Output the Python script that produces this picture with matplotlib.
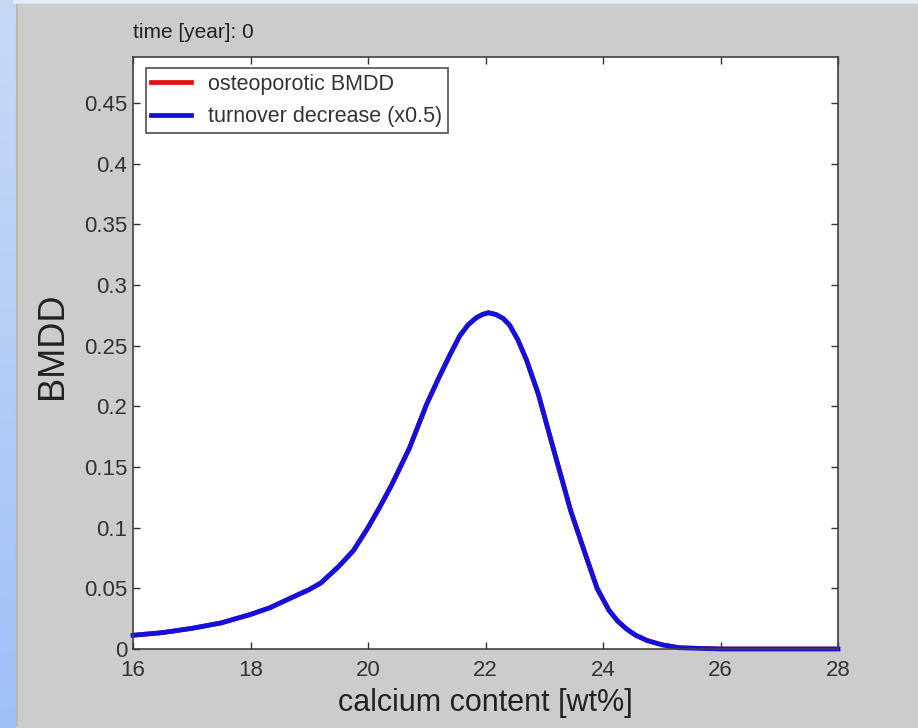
import numpy as np
import matplotlib
matplotlib.use('Agg')
import matplotlib.pyplot as plt
from matplotlib.lines import Line2D

# valeurs
calcium = [16.0, 16.5, 17.0, 17.5, 18.0, 18.33, 18.67, 19.0, 19.2, 19.5,
           19.75, 20.0, 20.2, 20.4, 20.7, 21.0, 21.2, 21.4, 21.56, 21.7,
           21.84, 21.95, 22.05, 22.18, 22.3, 22.41, 22.55, 22.7, 22.9, 23.15,
           23.45, 23.7, 23.9, 24.1, 24.25, 24.4, 24.55, 24.75, 25.0, 25.3,
           26.0, 27.0, 28.0]
bmdd = [0.0113, 0.0135, 0.017, 0.0215, 0.0285, 0.034, 0.0417, 0.049, 0.0545, 0.068,
        0.081, 0.100, 0.117, 0.135, 0.165, 0.202, 0.223, 0.243, 0.258, 0.267,
        0.273, 0.2758, 0.2772, 0.2757, 0.2725, 0.267, 0.255, 0.238, 0.210, 0.166,
        0.114, 0.078, 0.050, 0.032, 0.023, 0.0165, 0.0115, 0.007, 0.0035, 0.001,
        0.0, 0.0, 0.0]
# courbe osteoporotique identique au temps 0 (cachee sous la bleue)
bmdd_osteo = list(bmdd)

xticks = [16, 18, 20, 22, 24, 26, 28]
yticks = [0, 0.05, 0.1, 0.15, 0.2, 0.25, 0.3, 0.35, 0.4, 0.45]
ytick_labels = ['0', '0.05', '0.1', '0.15', '0.2', '0.25', '0.3', '0.35', '0.4', '0.45']

plt.rcParams['font.family'] = ['Liberation Sans', 'DejaVu Sans']

fig = plt.figure(figsize=(9.18, 7.28), dpi=100)
fig.patch.set_facecolor('#cccccc')

# bande bleue a gauche (fond de diapo)
strip = fig.add_axes([0, 0, 16 / 918, 1])
grad = np.linspace(0, 1, 256).reshape(-1, 1)
strip.imshow(grad, aspect='auto', cmap=matplotlib.colors.LinearSegmentedColormap.from_list(
    'slide', ['#c6daf8', '#9fc0f6']), extent=[0, 1, 0, 1])
strip.axis('off')
fig.add_artist(Line2D([17 / 918, 17 / 918], [0.004, 0.996], color='#bdbca8', lw=1.5))
fig.add_artist(Line2D([16 / 918, 1], [0.998, 0.998], color='#e6ecf6', lw=4))

ax = fig.add_axes([133 / 918, 1 - 649 / 728, (838 - 133) / 918, (649 - 57) / 728])
ax.set_facecolor('white')

ax.plot(calcium, bmdd_osteo, color='#e01010', lw=3.4, label='osteoporotic BMDD')
ax.plot(calcium, bmdd, color='#1010e0', lw=3.4, label='turnover decrease (x0.5)',
        clip_on=False, solid_joinstyle='round')

ax.set_xlim(16, 28)
ax.set_ylim(0, 0.488)
ax.set_xticks(xticks)
ax.set_yticks(yticks)
ax.set_yticklabels(ytick_labels)
ax.tick_params(direction='in', length=5, width=1, top=True, right=True,
               labelsize=16, colors='#333333', pad=4)
ax.tick_params(axis='x', pad=8)
for s in ax.spines.values():
    s.set_color('#404040')
    s.set_linewidth(1.2)

ax.set_xlabel('calcium content [wt%]', fontsize=22, color='#222222', labelpad=5)
ax.set_ylabel('BMDD', fontsize=26, color='#222222')
ax.yaxis.set_label_coords(-0.09, 0.513)

fig.text(133 / 918, 1 - 33 / 728, 'time [year]: 0', fontsize=15, color='#222222',
         va='center', ha='left')

leg = ax.legend(loc='upper left', fontsize=15.5, frameon=True, fancybox=False,
                edgecolor='#222222', handlelength=1.85, handletextpad=0.8,
                borderpad=0.25, labelspacing=0.55, borderaxespad=0,
                bbox_to_anchor=(0.018, 0.981))
leg.get_frame().set_linewidth(1.2)
for t in leg.get_texts():
    t.set_color('#333333')

fig.savefig('out.png', dpi=100, facecolor=fig.get_facecolor())
